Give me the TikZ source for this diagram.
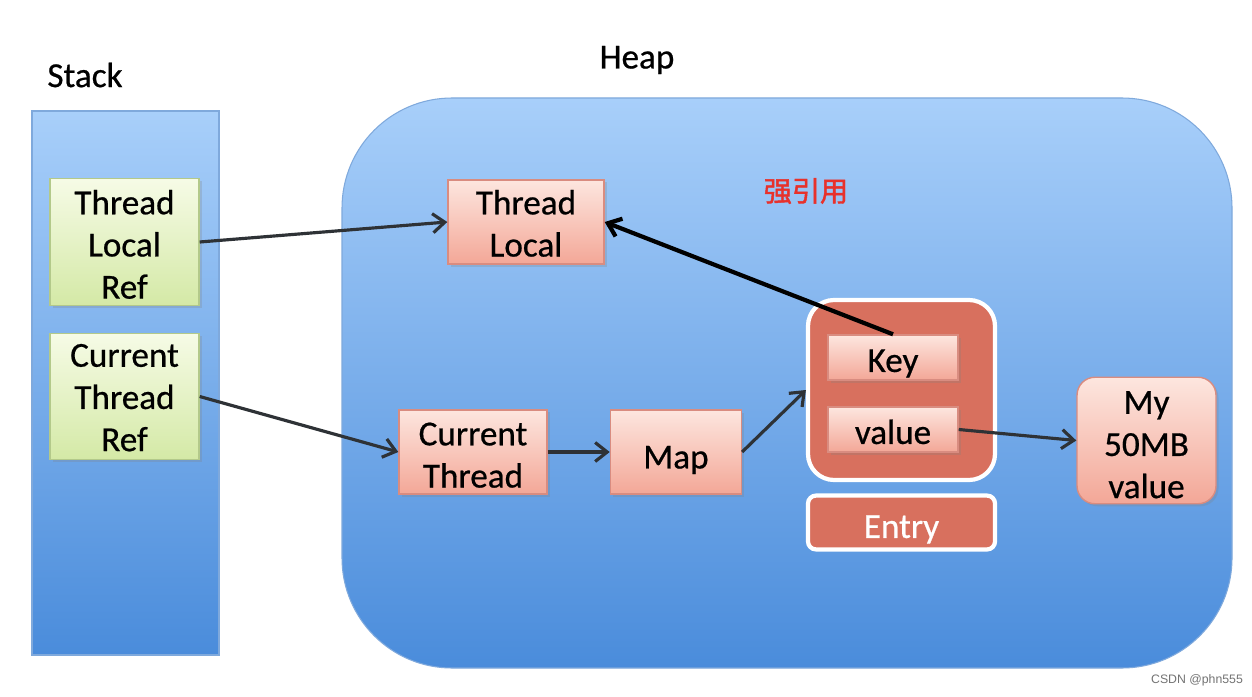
\documentclass[tikz,border=0pt]{standalone}
\usepackage{fontspec}
\setmainfont[FakeBold=0.6]{Carlito}
\newfontfamily\cjkfont[FakeBold=1.6]{Noto Sans CJK SC}
\newfontfamily\markfont{Liberation Sans}
\usepackage{tikz}
\usetikzlibrary{arrows.meta, positioning, shadows}
\usepackage{xcolor}
\definecolor{memtop}{HTML}{A8CFFA}
\definecolor{membot}{HTML}{4A8CDB}
\definecolor{memline}{HTML}{7FA9DC}
\definecolor{pinktop}{HTML}{FDE6DF}
\definecolor{pinkbot}{HTML}{F3A797}
\definecolor{pinkline}{HTML}{D98C80}
\definecolor{greentop}{HTML}{F6FBE6}
\definecolor{greenbot}{HTML}{D4E9A6}
\definecolor{greenline}{HTML}{B3C98A}
\definecolor{entryred}{HTML}{D8705E}
\definecolor{strongred}{HTML}{E8312B}
\definecolor{arrowgray}{HTML}{2E3236}
% lowered block of centred lines
\newcommand{\lowtext}[2][1.5mm]{\raisebox{-#1}[\height][\depth]{\begin{tabular}{@{}c@{}}#2\end{tabular}}}

\begin{document}
\begin{tikzpicture}[
                x=1cm, y=1cm,
                every node/.style={font=\fontsize{20}{24}\selectfont},
                area/.style={top color=memtop, bottom color=membot, draw=memline, line width=0.6pt},
                refbox/.style={top color=greentop, bottom color=greenbot, draw=greenline, line width=0.8pt, minimum width=2.98cm, minimum height=2.48cm, inner sep=0pt, align=center,
                    drop shadow={shadow xshift=0.5mm, shadow yshift=-0.5mm, opacity=0.25}},
                objbox/.style={top color=pinktop, bottom color=pinkbot, draw=pinkline, line width=0.8pt, inner sep=0pt, align=center,
                    drop shadow={shadow xshift=0.5mm, shadow yshift=-0.5mm, opacity=0.25}},
                entrybox/.style={fill=entryred, draw=white, line width=2.4pt},
                arr/.style={-{Straight Barb[length=2.4mm, width=3.8mm]}, line width=1.8pt, draw=arrowgray},
                strongarr/.style={-{Straight Barb[length=2.4mm, width=3.8mm]}, line width=2.4pt, draw=black}
            ]
                \useasboundingbox (0,0) rectangle (25.04,-13.92);
                \fill[white] (0,0) rectangle (25.04,-13.92);

                % stack and heap areas
                \node (stacklabel) at (1.70,-1.50) {Stack};
                \draw[area] (0.64,-2.22) rectangle (4.38,-13.10);
                \node (heaplabel) at (12.74,-1.20) {Heap};
                \draw[area, rounded corners=2.2cm] (6.84,-1.96) rectangle (24.64,-13.36);

                % references on the stack
                \node[refbox] (tlref) at (2.49,-4.84) {\lowtext[1.2mm]{Thread\\Local\\Ref}};
                \node[refbox] (ctref) at (2.49,-7.93) {\lowtext[0.8mm]{Current\\Thread\\Ref}};

                % objects on the heap
                \node[objbox, minimum width=3.12cm, minimum height=1.68cm] (tl) at (10.52,-4.44) {\lowtext[1mm]{Thread\\Local}};
                \node[objbox, minimum width=2.96cm, minimum height=1.68cm] (ct) at (9.46,-9.04) {\lowtext[1.2mm]{Current\\Thread}};
                \node[objbox, minimum width=2.62cm, minimum height=1.68cm, right=1.24cm of ct] (map) {\lowtext[1.6mm]{Map}};
                \node[entrybox, rounded corners=0.52cm, minimum width=3.74cm, minimum height=3.6cm] (entry) at (18.03,-7.80) {};
                \node[objbox, minimum width=2.6cm, minimum height=0.9cm] (key) at (17.86,-7.15) {\lowtext[1.2mm]{Key}};
                \node[objbox, minimum width=2.6cm, minimum height=0.9cm] (value) at (17.86,-8.59) {\lowtext[1.2mm]{value}};
                \node[entrybox, rounded corners=0.16cm, minimum width=3.74cm, minimum height=0.98cm, text=white] (entrylabel) at (18.03,-10.45) {\lowtext[1.4mm]{Entry}};
                \node[objbox, rounded corners=0.36cm, minimum width=2.78cm, minimum height=2.34cm] (big) at (22.93,-8.81) {\lowtext[1.4mm]{My\\50MB\\value}};

                \node[text=strongred, font=\cjkfont\fontsize{16}{19}\selectfont] (strong) at (16.12,-3.82) {强引用};

                \draw[arr] (tlref.east) -- (tl.west);
                \draw[arr] (ctref.east) -- (ct.west);
                \draw[arr] (ct) -- (map);
                \draw[arr] (map.east) -- (entry.west);
                \draw[arr] (value.east) -- (big.west);
                \draw[strongarr] (key.north) -- (tl.east);

                \node[text=black!55, font=\markfont\fontsize{7}{8}\selectfont] (mark) at (23.94,-13.60) {CSDN @phn555};
            \end{tikzpicture}
\end{document}
